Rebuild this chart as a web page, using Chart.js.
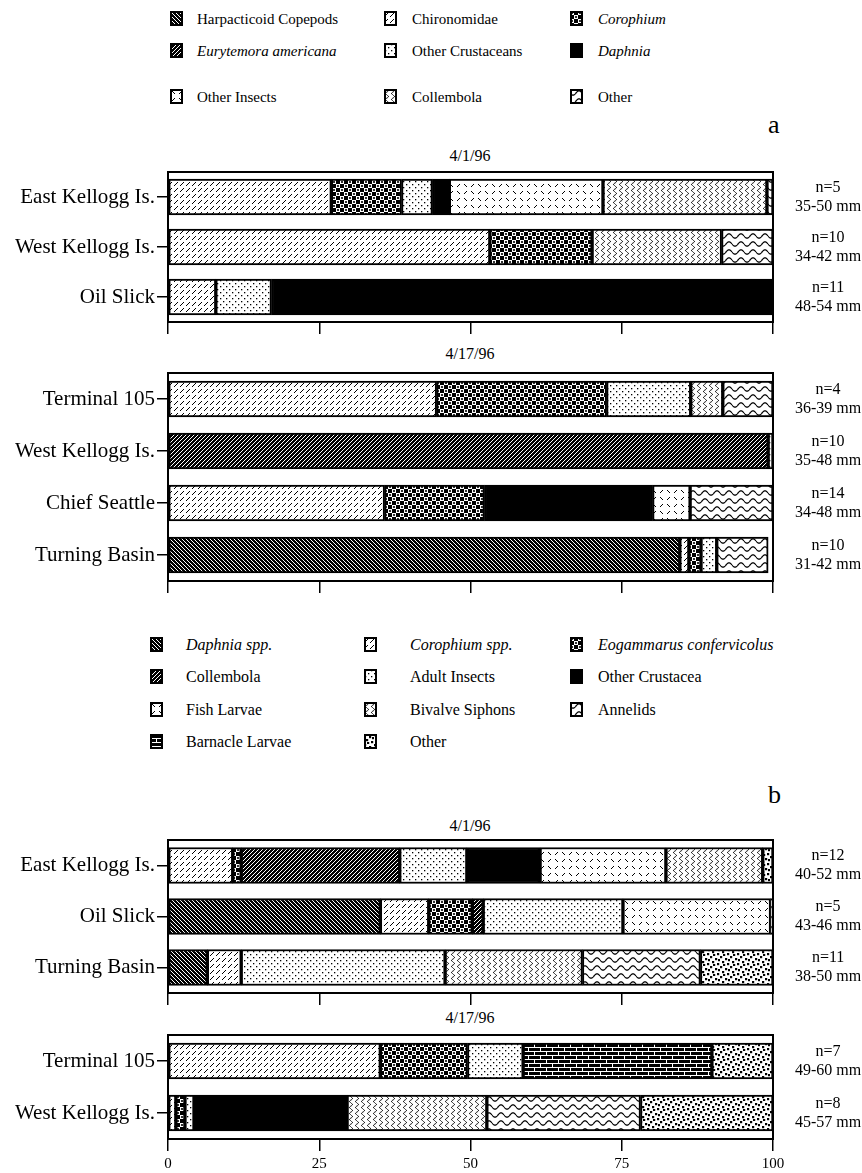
<!DOCTYPE html>
<html>
<head>
<meta charset="utf-8">
<script src="https://cdn.jsdelivr.net/npm/chart.js@4.4.1/dist/chart.umd.min.js"></script>
<style>
body{margin:0;background:#fff;width:862px;height:1173px;position:relative;overflow:hidden;
  font-family:"Liberation Serif","Times New Roman",serif;color:#000;}
.t{position:absolute;white-space:nowrap;transform:translateY(-50%);line-height:1;}
.c{transform:translate(-50%,-50%);}
canvas.chart{position:absolute;left:0;}
canvas.key{position:absolute;}
.it{font-style:italic;}
</style>
</head>
<body>
<script>
// ---------- data: prey categories ----------
const preyA = ["Harpacticoid Copepods","Eurytemora americana","Chironomidae","Corophium",
  "Other Crustaceans","Daphnia","Other Insects","Collembola","Other"];
const preyB = ["Daphnia spp.","Corophium spp.","Eogammarus confervicolus","Collembola",
  "Adult Insects","Other Crustacea","Fish Larvae","Barnacle Larvae","Bivalve Siphons","Annelids","Other"];

// ---------- panel a, 4/1/96 (percent, in preyA order) ----------
const sitesA1 = ["East Kellogg Is.","West Kellogg Is.","Oil Slick"];
const eastKelloggA1 = [0, 0, 27.0, 11.6, 5.1, 2.8, 25.4, 27.1, 1.0];
const westKelloggA1 = [0, 0, 53.2, 16.9, 0, 0, 0, 21.4, 8.5];
const oilSlickA1    = [0, 0, 7.9, 0, 9.2, 82.9, 0, 0, 0];
const sizesA1 = [["n=5","35-50 mm"],["n=10","34-42 mm"],["n=11","48-54 mm"]];

// ---------- panel a, 4/17/96 ----------
const sitesA2 = ["Terminal 105","West Kellogg Is.","Chief Seattle","Turning Basin"];
const terminalA2     = [0, 0, 44.4, 28.1, 13.9, 0, 0, 5.3, 8.3];
const westKelloggA2  = [0, 99.2, 0, 0, 0.8, 0, 0, 0, 0];
const chiefSeattleA2 = [0, 0, 35.8, 16.5, 0, 27.8, 6.2, 0, 13.7];
const turningBasinA2 = [84.6, 0, 1.5, 2.0, 2.6, 0, 0, 0, 8.5];
const sizesA2 = [["n=4","36-39 mm"],["n=10","35-48 mm"],["n=14","34-48 mm"],["n=10","31-42 mm"]];

// ---------- panel b, 4/1/96 (percent, in preyB order) ----------
const sitesB1 = ["East Kellogg Is.","Oil Slick","Turning Basin"];
const eastKelloggB1  = [0, 10.7, 1.4, 26.2, 11.1, 12.1, 20.8, 0, 16.0, 0, 1.7];
const oilSlickB1     = [35.1, 8.0, 7.2, 1.8, 23.1, 0, 24.4, 0, 0, 0, 0.4];
const turningBasinB1 = [6.5, 5.6, 0, 0, 33.7, 0, 0, 0, 22.7, 19.5, 12.0];
const sizesB1 = [["n=12","40-52 mm"],["n=5","43-46 mm"],["n=11","38-50 mm"]];

// ---------- panel b, 4/17/96 ----------
const sitesB2 = ["Terminal 105","West Kellogg Is."];
const terminalB2    = [0, 35.1, 14.4, 0, 9.2, 0, 0, 31.2, 0, 0, 10.1];
const westKelloggB2 = [0, 1.3, 1.5, 0, 1.5, 25.3, 0, 0, 23.1, 25.4, 21.9];
const sizesB2 = [["n=7","49-60 mm"],["n=8","45-57 mm"]];

const xTicks = [0, 25, 50, 75, 100];

// legend grids (as printed)
const legendRowsA = [["Harpacticoid Copepods","Chironomidae","Corophium"],
  ["Eurytemora americana","Other Crustaceans","Daphnia"],
  ["Other Insects","Collembola","Other"]];
const legendRowsB = [["Daphnia spp.","Corophium spp.","Eogammarus confervicolus"],
  ["Collembola","Adult Insects","Other Crustacea"],
  ["Fish Larvae","Bivalve Siphons","Annelids"],
  ["Barnacle Larvae","Other"]];
const italicNames = ["Eurytemora americana","Corophium","Daphnia","Daphnia spp.","Corophium spp.","Eogammarus confervicolus"];

Chart.defaults.font.family = '"Liberation Serif","Times New Roman",serif';
Chart.defaults.color = "#000";

// ======================================
// FILL PATTERNS
// ======================================
const patCtx = document.createElement("canvas").getContext("2d");

function tile(w, h, bg, draw){
  const c = document.createElement("canvas");
  c.width = w; c.height = h;
  const g = c.getContext("2d");
  g.fillStyle = bg; g.fillRect(0, 0, w, h);
  g.strokeStyle = bg == "#000" ? "#fff" : "#000";
  g.fillStyle = g.strokeStyle;
  g.lineWidth = 1;
  draw(g, w, h);
  return patCtx.createPattern(c, "repeat");
}
function seg(g, x1, y1, x2, y2){ g.beginPath(); g.moveTo(x1, y1); g.lineTo(x2, y2); g.stroke(); }

const backHatch = tile(4, 4, "#000", function(g){ [-4,0,4].forEach(k => seg(g, k, 0, k+4, 4)); });
const fwdHatch  = tile(4, 4, "#000", function(g){ [-4,0,4].forEach(k => seg(g, k, 4, k+4, 0)); });
const dashDiag  = tile(6, 6, "#fff", function(g){ seg(g, 0, 6, 4, 2); });
const dots = tile(6, 6, "#fff", function(g){
  g.fillRect(1, 1, 1.3, 1.3); g.fillRect(4, 4, 1.3, 1.3);
});
const ticks = tile(14, 14, "#fff", function(g){
  seg(g, 2, 2, 5, 5); seg(g, 9, 5, 12, 2); seg(g, 2, 12, 5, 9); seg(g, 9, 9, 12, 12);
});
const balls = tile(8, 8, "#000", function(g){
  g.fillStyle = "#fff"; g.fillRect(0, 0, 4, 4); g.fillRect(4, 4, 4, 4);
  g.fillStyle = "#000";
  g.beginPath(); g.arc(2, 2, 1.1, 0, 7); g.fill();
  g.beginPath(); g.arc(6, 6, 1.1, 0, 7); g.fill();
});
const vwave = tile(6, 6, "#fff", function(g){
  g.beginPath();
  for(let y = 0; y <= 6; y += 0.5){ const x = 3 + 1.5*Math.sin(2*Math.PI*y/6); y==0 ? g.moveTo(x,y) : g.lineTo(x,y); }
  g.stroke();
});
const hwave = tile(12, 8, "#fff", function(g){
  g.lineWidth = 1.2; g.beginPath();
  for(let x = 0; x <= 12; x += 0.5){ const y = 4 + 2.2*Math.sin(2*Math.PI*x/12); x==0 ? g.moveTo(x,y) : g.lineTo(x,y); }
  g.stroke();
});
const bricks = tile(12, 8, "#000", function(g){
  g.fillRect(0, 0, 12, 1); g.fillRect(0, 4, 12, 1);
  g.fillRect(0, 0, 1, 4); g.fillRect(6, 4, 1, 4);
});
const speck = tile(10, 10, "#fff", function(g){
  [[0,0],[5,2],[2,5],[7,7],[8,3],[3,8]].forEach(p => g.fillRect(p[0], p[1], 2.2, 2.2));
});

const stylesA = {"Harpacticoid Copepods":backHatch, "Eurytemora americana":fwdHatch, "Chironomidae":dashDiag,
  "Corophium":balls, "Other Crustaceans":dots, "Daphnia":"#000", "Other Insects":ticks,
  "Collembola":vwave, "Other":hwave};
const stylesB = {"Daphnia spp.":backHatch, "Collembola":fwdHatch, "Fish Larvae":ticks, "Barnacle Larvae":bricks,
  "Corophium spp.":dashDiag, "Adult Insects":dots, "Bivalve Siphons":vwave, "Other":speck,
  "Eogammarus confervicolus":balls, "Other Crustacea":"#000", "Annelids":hwave};

// ======================================
// TEXT + LEGENDS
// ======================================
function text(str, x, y, size, cls){
  const d = document.createElement("div");
  d.className = "t " + (cls || "");
  d.style.left = x + "px"; d.style.top = y + "px"; d.style.fontSize = size + "px";
  d.textContent = str;
  document.body.appendChild(d);
}

function legend(rows, styles, ys, iconX, textX, size){
  rows.forEach(function(row, r){
    row.forEach(function(name, c){
      const k = document.createElement("canvas");
      k.className = "key"; k.width = 13; k.height = 15;
      k.style.left = iconX[c] + "px"; k.style.top = (ys[r] - 8) + "px";
      const g = k.getContext("2d");
      g.fillStyle = styles[name]; g.fillRect(0, 0, 13, 15);
      g.strokeStyle = "#000"; g.lineWidth = 2; g.strokeRect(1, 1, 11, 13);
      document.body.appendChild(k);
      text(name, textX[c], ys[r], size, italicNames.includes(name) ? "it" : "");
    });
  });
}

legend(legendRowsA, stylesA, [19, 51, 97], [170, 384, 570], [197, 412, 598], 15);
legend(legendRowsB, stylesB, [645, 677, 710, 742], [150, 364, 570], [186, 410, 598], 16);

text("a", 768, 125, 26);
text("b", 768, 795, 26);
text("4/1/96", 470, 156, 16, "c");
text("4/17/96", 470, 354, 16, "c");
text("4/1/96", 470, 826, 16, "c");
text("4/17/96", 470, 1018, 16, "c");

// ======================================
// STACKED BAR PANELS
// ======================================
const frame = {
  id: "frame",
  afterDatasetsDraw(chart){
    const a = chart.chartArea, ctx = chart.ctx;
    ctx.save(); ctx.strokeStyle = "#000"; ctx.lineWidth = 2;
    ctx.strokeRect(a.left, a.top, a.right - a.left, a.bottom - a.top);
    ctx.restore();
  }
};

// no label overhang padding, fixed size
function fixSize(prop, size){
  return function(s){
    s[prop] = size;
    s.paddingTop = 0; s.paddingBottom = 0; s.paddingLeft = 0; s.paddingRight = 0;
  };
}

function panel(boxTop, boxH, sites, rows, prey, styles, sizes, showX){
  const axisH = showX ? 36 : 16;
  const cv = document.createElement("canvas");
  cv.className = "chart";
  cv.width = 862; cv.height = 4 + boxH + axisH;
  cv.style.top = (boxTop - 4) + "px";
  cv.style.width = "862px"; cv.style.height = cv.height + "px";
  document.body.appendChild(cv);

  const datasets = prey.map(function(p, i){
    return {
      label: p,
      data: rows.map(r => r[i] ? r[i] : null),
      backgroundColor: styles[p],
      borderColor: "#000",
      borderWidth: 2,
      borderSkipped: false,
      barThickness: 36
    };
  });

  new Chart(cv, {
    type: "bar",
    data: { labels: sites, datasets: datasets },
    options: {
      indexAxis: "y",
      responsive: false,
      animation: false,
      layout: { padding: { top: 4 } },
      plugins: { legend: { display: false }, tooltip: { enabled: false } },
      scales: {
        x: {
          stacked: true, min: 0, max: 100,
          afterBuildTicks: s => { s.ticks = xTicks.map(v => ({ value: v })); },
          ticks: { display: showX, font: { size: 15 }, padding: 4, maxRotation: 0, autoSkip: false },
          grid: { drawOnChartArea: false, tickLength: 12, color: "#000", lineWidth: 1.5 },
          border: { color: "#000", width: 2 },
          afterFit: fixSize("height", axisH)
        },
        y: {
          stacked: true,
          ticks: { font: { size: 21 }, padding: 2, autoSkip: false },
          grid: { drawOnChartArea: false, offset: false, tickLength: 11, color: "#000", lineWidth: 1.5 },
          border: { color: "#000", width: 2 },
          afterFit: fixSize("width", 168)
        },
        y2: {
          type: "category", position: "right", labels: sizes, offset: true,
          grid: { display: false }, border: { display: false },
          ticks: { font: { size: 16, lineHeight: 1.2 }, crossAlign: "center", padding: 14, autoSkip: false },
          afterFit: fixSize("width", 89)
        }
      }
    },
    plugins: [frame]
  });
}

panel(172, 150, sitesA1, [eastKelloggA1, westKelloggA1, oilSlickA1], preyA, stylesA, sizesA1, false);
panel(373, 208, sitesA2, [terminalA2, westKelloggA2, chiefSeattleA2, turningBasinA2], preyA, stylesA, sizesA2, false);
panel(840, 153, sitesB1, [eastKelloggB1, oilSlickB1, turningBasinB1], preyB, stylesB, sizesB1, false);
panel(1035, 104, sitesB2, [terminalB2, westKelloggB2], preyB, stylesB, sizesB2, true);
</script>
</body>
</html>
